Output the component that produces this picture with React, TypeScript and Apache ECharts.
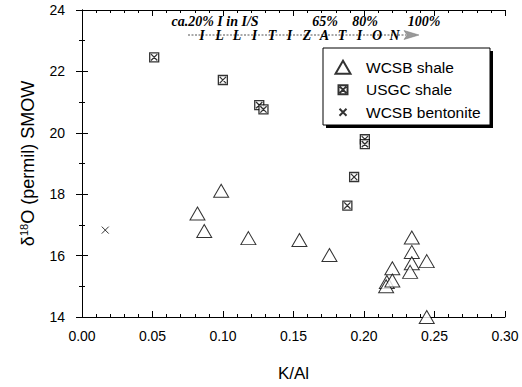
import React, { useEffect, useRef } from "react";
import * as echarts from "echarts";

// K/Al vs d18O values
const wcsbShaleKAl = [0.0819, 0.0867, 0.0987, 0.118, 0.1542, 0.1755, 0.2162, 0.2157, 0.2201, 0.2201, 0.2339, 0.2339, 0.2339, 0.2327, 0.2445, 0.2445];
const wcsbShaleO18 = [17.37, 16.8, 18.11, 16.57, 16.51, 16.02, 15.14, 15.0, 15.59, 15.19, 16.59, 16.12, 15.75, 15.47, 15.82, 14.0];

const usgcShaleKAl = [0.0512, 0.0999, 0.1257, 0.1287, 0.2006, 0.2006, 0.193, 0.1882];
const usgcShaleO18 = [22.46, 21.72, 20.9, 20.76, 19.79, 19.63, 18.56, 17.63];

const wcsbBentoniteKAl = [0.0165];
const wcsbBentoniteO18 = [16.83];

const seriesNames = ["WCSB shale", "USGC shale", "WCSB bentonite"];
const illitizationLetters = ["I", "L", "L", "I", "T", "I", "Z", "A", "T", "I", "O", "N"];
const percentLabels = ["ca.20% I in I/S", "65%", "80%", "100%"];

const pair = (xs: number[], ys: number[]) => xs.map((x, i) => [x, ys[i]]);

const boxCross = "path://M0,0H10V10H0Z M1.5,1.5L8.5,8.5 M8.5,1.5L1.5,8.5";
const cross = "path://M0,0L10,10 M10,0L0,10";

export default function App() {
  const ref = useRef<HTMLDivElement>(null);
  useEffect(() => {
    if (!ref.current) return;
    const chart = echarts.init(ref.current, null, { renderer: "svg" });
    const sans = "Liberation Sans";
    const serif = "Liberation Serif";
    const axisCommon = {
      min: 0,
      max: 0.3,
      interval: 0.05,
      axisLine: { lineStyle: { color: "#000", width: 1 } },
      axisTick: { inside: true, length: 6, lineStyle: { color: "#000" } },
      minorTick: { show: true, splitNumber: 5, length: 3, lineStyle: { color: "#000" } },
      splitLine: { show: false },
    };
    const yCommon = {
      min: 14,
      max: 24,
      interval: 2,
      axisLine: { show: true, lineStyle: { color: "#000", width: 1 } },
      axisTick: { show: true, inside: true, length: 6, lineStyle: { color: "#000" } },
      minorTick: { show: true, splitNumber: 2, length: 3, lineStyle: { color: "#000" } },
      splitLine: { show: false },
    };
    const letterStart = 202;
    const letterStep = 17.5;
    const percentX = [215, 325, 365, 424];
    const graphics: any[] = [];
    percentLabels.forEach((t, i) => {
      graphics.push({
        type: "text",
        x: percentX[i],
        y: 21,
        style: { text: t, font: `bold italic 14px "${serif}"`, fill: "#000", align: "center", verticalAlign: "middle" },
        z: 10,
      });
    });
    graphics.push({
      type: "line",
      shape: { x1: 188, y1: 35, x2: 406, y2: 35 },
      style: { stroke: "#555", lineWidth: 1, lineDash: [2, 1.5] },
      z: 10,
    });
    graphics.push({
      type: "polygon",
      shape: { points: [[404, 30.5], [419, 35], [404, 39.5], [407, 35]] },
      style: { fill: "#999", stroke: "#777", lineWidth: 0.5 },
      z: 10,
    });
    illitizationLetters.forEach((l, i) => {
      graphics.push({
        type: "text",
        x: letterStart + i * letterStep,
        y: 35,
        style: { text: l, font: `bold italic 14px "${serif}"`, fill: "#000", align: "center", verticalAlign: "middle" },
        z: 11,
      });
    });
    // legend frame with drop shadow
    graphics.push({
      type: "rect",
      shape: { x: 326, y: 51, width: 167, height: 77 },
      style: { fill: "#000" },
      z: 1,
    });
    graphics.push({
      type: "rect",
      shape: { x: 323, y: 48, width: 167, height: 77 },
      style: { fill: "#fff", stroke: "#000", lineWidth: 1 },
      z: 2,
    });

    const iconCenterX = 342;
    const textStartX = 365;
    const fontSize = 15.5;
    const legendRow = (name: string, centerY: number, w: number, h: number) => ({
      orient: "vertical",
      left: iconCenterX - w / 2,
      top: centerY - fontSize / 2,
      padding: 0,
      itemWidth: w,
      itemHeight: h,
      z: 6,
      textStyle: {
        fontFamily: sans,
        fontSize,
        color: "#000",
        padding: [0, 0, 0, textStartX - iconCenterX - w / 2 - 5],
      },
      data: [name],
    });

    chart.setOption({
      animation: false,
      backgroundColor: "#fff",
      grid: { left: 82, right: 17, top: 10, bottom: 63, containLabel: false },
      xAxis: [
        {
          ...axisCommon,
          type: "value",
          position: "bottom",
          name: "K/Al",
          nameLocation: "middle",
          nameGap: 48,
          nameTextStyle: { fontFamily: sans, fontSize: 17, color: "#000" },
          axisLabel: { fontFamily: sans, fontSize: 14, color: "#000", margin: 12, formatter: (v: number) => v.toFixed(2) },
        },
        {
          ...axisCommon,
          type: "value",
          position: "top",
          axisLabel: { show: false },
        },
      ],
      yAxis: [
        {
          ...yCommon,
          type: "value",
          position: "left",
          name: "δ{sup|18}O (permil) SMOW",
          nameLocation: "middle",
          nameGap: 45,
          nameRotate: 90,
          nameTextStyle: {
            fontFamily: sans,
            fontSize: 18,
            color: "#000",
            rich: { sup: { fontFamily: sans, fontSize: 11, color: "#000", verticalAlign: "top", padding: [0, 0, 8, 0] } },
          },
          axisLabel: { fontFamily: sans, fontSize: 14, color: "#000", margin: 17, padding: [5, 0, 0, 0] },
        },
        {
          ...yCommon,
          type: "value",
          position: "right",
          axisLabel: { show: false },
        },
      ],
      legend: [
        legendRow(seriesNames[0], 67, 15, 13),
        legendRow(seriesNames[1], 89.5, 9, 9),
        legendRow(seriesNames[2], 112, 7, 7),
      ],
      graphic: graphics,
      series: [
        {
          name: seriesNames[0],
          type: "scatter",
          clip: false,
          symbol: "triangle",
          symbolSize: [15, 13],
          itemStyle: { color: "#fff", borderColor: "#000", borderWidth: 1 },
          data: pair(wcsbShaleKAl, wcsbShaleO18),
          z: 3,
        },
        {
          name: seriesNames[1],
          type: "scatter",
          clip: false,
          symbol: boxCross,
          symbolSize: 9,
          itemStyle: { color: "#fff", borderColor: "#000", borderWidth: 1.3 },
          data: pair(usgcShaleKAl, usgcShaleO18),
          z: 3,
        },
        {
          name: seriesNames[2],
          type: "scatter",
          clip: false,
          symbol: cross,
          symbolSize: 7,
          itemStyle: { color: "#fff", borderColor: "#000", borderWidth: 1 },
          data: pair(wcsbBentoniteKAl, wcsbBentoniteO18),
          z: 3,
        },
      ],
    });
    return () => chart.dispose();
  }, []);
  return <div ref={ref} style={{ width: 522, height: 387, position: "absolute", left: 0, top: 0 }} />;
}
